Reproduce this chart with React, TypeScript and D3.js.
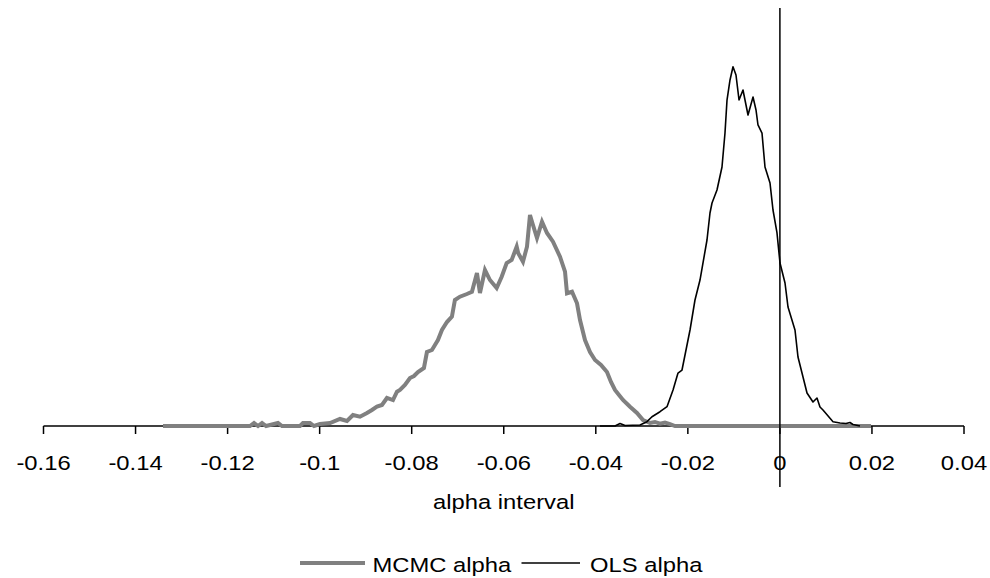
import React from "react";
import * as d3 from "d3";

// x ticks (alpha interval)
const xTicks = [-0.16, -0.14, -0.12, -0.1, -0.08, -0.06, -0.04, -0.02, 0, 0.02, 0.04];
const xTickLabels = ["-0.16", "-0.14", "-0.12", "-0.1", "-0.08", "-0.06", "-0.04", "-0.02", "0", "0.02", "0.04"];

// MCMC alpha density: [alpha, density]
const mcmcAlpha: [number, number][] = [
  [-0.13404, 0], [-0.11513, 0], [-0.11426, 0.5], [-0.11339, 0], [-0.11252, 0.5], [-0.11165, 0],
  [-0.10905, 0.5], [-0.10818, 0], [-0.10427, 0], [-0.10362, 0.5], [-0.1021, 0.5], [-0.10123, 0],
  [-0.09993, 0.33], [-0.09775, 0.5], [-0.09558, 1.17], [-0.09406, 0.83], [-0.09276, 1.83],
  [-0.09124, 1.55], [-0.08972, 2.17], [-0.08864, 2.67], [-0.08755, 3.22], [-0.08646, 3.5],
  [-0.08538, 4.67], [-0.08407, 4.33], [-0.0832, 5.72], [-0.08255, 6], [-0.08147, 6.83],
  [-0.08038, 8], [-0.07951, 8.33], [-0.07864, 9], [-0.07734, 9.67], [-0.07669, 12.33],
  [-0.0756, 12.67], [-0.07495, 13.5], [-0.0743, 14.33], [-0.07343, 16], [-0.07234, 17.33],
  [-0.07126, 18.22], [-0.07061, 21], [-0.06952, 21.55], [-0.068, 22], [-0.06691, 22.38],
  [-0.06582, 25.5], [-0.06517, 22.17], [-0.06408, 26], [-0.063, 24.33], [-0.06154, 23],
  [-0.06045, 24.88], [-0.05937, 27.17], [-0.05828, 27.67], [-0.05719, 29.88], [-0.05687, 28.83],
  [-0.05582, 27.38], [-0.05495, 29.88], [-0.0543, 35.17], [-0.05365, 33.5], [-0.05278, 31.33],
  [-0.05169, 34.05], [-0.05061, 32.17], [-0.0493, 30.72], [-0.04778, 28.22], [-0.04669, 25.72],
  [-0.04626, 22.12], [-0.04517, 22.38], [-0.04408, 20.45], [-0.04343, 17.67], [-0.04235, 14.33],
  [-0.04126, 12.33], [-0.04017, 11], [-0.03887, 10.17], [-0.03757, 9], [-0.0367, 7.33],
  [-0.03583, 6], [-0.03496, 5.17], [-0.03409, 4.33], [-0.03257, 3.22], [-0.03105, 2.17],
  [-0.02974, 1], [-0.02823, 0.5], [-0.02714, 0.67], [-0.02605, 0.38], [-0.02496, 0.58],
  [-0.02388, 0.33], [-0.02279, 0], [0.01979, 0],
];

// OLS alpha density: [alpha, density]
const olsAlpha: [number, number][] = [
  [-0.03909, 0], [-0.03583, 0], [-0.03474, 0.42], [-0.03365, 0.08], [-0.0304, 0.17],
  [-0.02888, 0.72], [-0.02779, 1.55], [-0.02605, 2.38], [-0.02453, 3.22], [-0.02322, 6],
  [-0.02214, 8.83], [-0.02127, 9.33], [-0.01953, 16], [-0.01845, 21], [-0.01736, 24.33],
  [-0.01584, 31], [-0.01519, 35.5], [-0.01475, 37.17], [-0.01367, 39.33], [-0.01258, 43.17],
  [-0.01193, 48.83], [-0.01149, 54.33], [-0.01084, 57.67], [-0.01019, 59.88], [-0.00954, 58.5],
  [-0.00888, 54.33], [-0.00802, 56], [-0.00693, 51.83], [-0.00584, 54.83], [-0.00519, 52.67],
  [-0.00476, 50.17], [-0.00389, 48.83], [-0.00324, 43.17], [-0.00215, 40.5], [-0.0015, 36],
  [-0.00063, 32.17], [0.00002, 27.17], [0.00111, 23.83], [0.00176, 19.83], [0.00328, 16],
  [0.00393, 11.5], [0.00502, 8.17], [0.00589, 5.5], [0.00719, 4], [0.00806, 4.67],
  [0.00871, 3.17], [0.00936, 2.67], [0.01154, 0.72], [0.01306, 0.5], [0.01436, 0.42],
  [0.01523, 0.58], [0.01588, 0.25], [0.0174, 0],
];

const seriesNames = ["MCMC alpha", "OLS alpha"];
const axisTitle = "alpha interval";

const W = 990;
const H = 578;
const FONT = "'Liberation Sans', Arial, sans-serif";
const FS = 19.5;
const SX = 1.22;

const StretchText = ({ x, y, anchor, children }: { x: number; y: number; anchor: string; children: React.ReactNode }) => (
  <text
    transform={`translate(${x},${y}) scale(${SX},1)`}
    textAnchor={anchor}
    fontFamily={FONT}
    fontSize={FS}
    fill="#000"
  >
    {children}
  </text>
);

export default function App() {
  const x = d3.scaleLinear().domain([-0.16, 0.04]).range([43.5, 964]);
  const y = d3.scaleLinear().domain([0, 70]).range([426, 6]);
  const line = d3
    .line<[number, number]>()
    .x((d) => x(d[0]))
    .y((d) => y(d[1]));
  const baseY = y(0);

  return (
    <svg
      width={W}
      height={H}
      style={{ position: "absolute", left: 0, top: 0, background: "#fff" }}
    >
      <rect width={W} height={H} fill="#fff" />
      {/* x axis */}
      <line x1={x(-0.16)} x2={x(0.04)} y1={baseY} y2={baseY} stroke="#000" strokeWidth={1.5} />
      {xTicks.map((t, i) => (
        <g key={i}>
          <line x1={x(t)} x2={x(t)} y1={baseY} y2={baseY + 8} stroke="#000" strokeWidth={1.5} />
          <StretchText x={x(t)} y={470} anchor="middle">
            {xTickLabels[i]}
          </StretchText>
        </g>
      ))}
      {/* series */}
      <path d={line(mcmcAlpha) || ""} fill="none" stroke="#808080" strokeWidth={4} strokeLinejoin="miter" />
      <path d={line(olsAlpha) || ""} fill="none" stroke="#000" strokeWidth={1.6} strokeLinejoin="round" />
      {/* zero line */}
      <line x1={x(0)} x2={x(0)} y1={8} y2={487} stroke="#000" strokeWidth={1.5} />
      {/* axis title */}
      <StretchText x={(x(-0.16) + x(0.04)) / 2} y={509} anchor="middle">
        {axisTitle}
      </StretchText>
      {/* legend */}
      <line x1={300} x2={365} y1={563} y2={563} stroke="#808080" strokeWidth={4} />
      <StretchText x={372.5} y={571.5} anchor="start">
        {seriesNames[0]}
      </StretchText>
      <line x1={521.5} x2={580} y1={563} y2={563} stroke="#000" strokeWidth={1.5} />
      <StretchText x={590} y={571.5} anchor="start">
        {seriesNames[1]}
      </StretchText>
    </svg>
  );
}
